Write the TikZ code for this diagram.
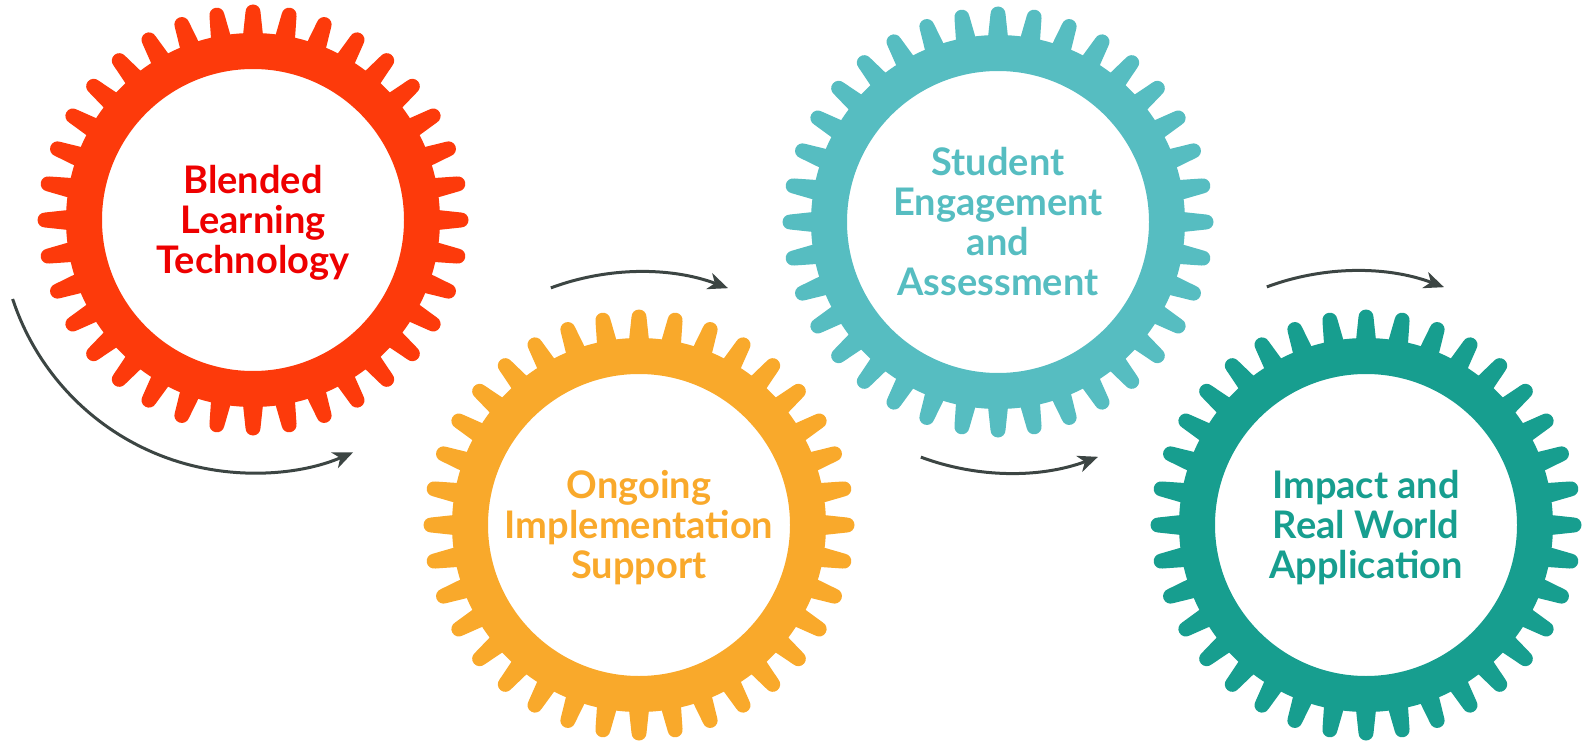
\documentclass[tikz,border=0pt]{standalone}
\usepackage{fontspec}
\setmainfont{Lato}
\usetikzlibrary{arrows.meta,calc}
\definecolor{gred}{HTML}{FD3A0B}
\definecolor{tred}{HTML}{EE0000}
\definecolor{gorange}{HTML}{F9A92B}
\definecolor{glteal}{HTML}{56BDC1}
\definecolor{gdteal}{HTML}{179E8F}
\definecolor{arrowgray}{HTML}{3C4543}
\tikzset{
  gearlabel/.style={circle, minimum size=302pt, inner sep=0pt, align=center,
    font=\bfseries\fontsize{38}{40}\selectfont},
  flow/.style={draw=arrowgray, line width=3pt,
    -{Stealth[length=20pt,width=17pt,inset=6pt]}},
}
\newcommand\drawgear[2]{%
  \begin{scope}[shift={(#1)}]
    \fill[#2, even odd rule] (0,0) circle[radius=187] (0,0) circle[radius=151];
    \foreach \a in {0,10,...,350}{
      \fill[#2, rotate=\a] (180,-10.5) -- (208,-7.5)
        arc[start angle=-90, end angle=90, radius=7.5] -- (180,10.5) -- cycle;
    }
  \end{scope}}
\begin{document}
\begin{tikzpicture}[x=1pt, y=-1pt]
  \useasboundingbox (0,0) rectangle (1583,741);
  \coordinate (c1) at (253,220);
  \coordinate (c2) at (639,525);
  \coordinate (c3) at (998,222);
  \coordinate (c4) at (1366,525);
  \coordinate (a3) at (1009,220);
  \coordinate (a4) at (1355,524);

  \drawgear{c1}{gred}
  \drawgear{c2}{gorange}
  \drawgear{c3}{glteal}
  \drawgear{c4}{gdteal}

  \node[gearlabel, text=tred, yshift=-3pt] (n1) at (c1) {Blended\\Learning\\Technology};
  \node[gearlabel, text=gorange, yshift=-3pt] (n2) at (c2) {Ongoing\\Implementation\\Support};
  \node[gearlabel, text=glteal] (n3) at (c3) {Student\\Engagement\\and\\Assessment};
  \node[gearlabel, text=gdteal, yshift=-3pt] (n4) at (c4) {Impact and\\Real World\\Application};

  \draw[flow] ($(c1)+(161.8:253)$) arc[start angle=161.8, end angle=66.7, radius=253];
  \draw[flow] ($(c2)+(249.6:253)$) arc[start angle=249.6, end angle=290.6, radius=253];
  \draw[flow] ($(a3)+(110.4:253)$) arc[start angle=110.4, end angle=69.4, radius=253];
  \draw[flow] ($(a4)+(249.6:253)$) arc[start angle=249.6, end angle=290.6, radius=253];
\end{tikzpicture}
\end{document}
